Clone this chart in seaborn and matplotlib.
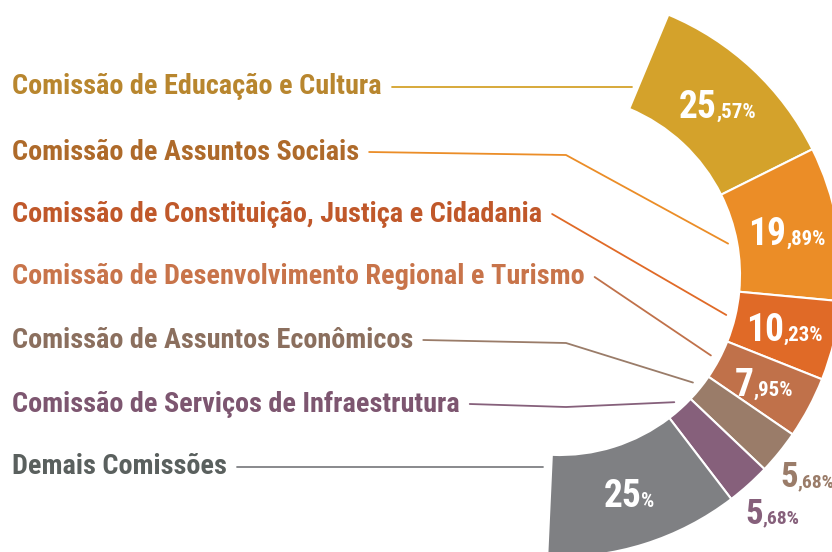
import numpy as np
import matplotlib
matplotlib.use("Agg")
import matplotlib.pyplot as plt
from matplotlib.patches import Wedge
import seaborn as sns

# dados
comissoes = [
    "Comissão de Educação e Cultura",
    "Comissão de Assuntos Sociais",
    "Comissão de Constituição, Justiça e Cidadania",
    "Comissão de Desenvolvimento Regional e Turismo",
    "Comissão de Assuntos Econômicos",
    "Comissão de Serviços de Infraestrutura",
    "Demais Comissões",
]
percentuais = [25.57, 19.89, 10.23, 7.95, 5.68, 5.68, 25.0]

cores_fatias = ["#D4A22B", "#EB8D27", "#E06A27", "#C0714A", "#9A7C69", "#86607B", "#7F8083"]
cores_texto = ["#B8862E", "#AE6A2A", "#C0582A", "#C8744A", "#8B6F5E", "#7D5670", "#5A605E"]

sns.set_style("white")
plt.rcParams["font.family"] = ["Roboto Condensed", "Liberation Sans Narrow", "DejaVu Sans"]
plt.rcParams["font.weight"] = "bold"

W, H = 832, 552
fig = plt.figure(figsize=(W / 100, H / 100), dpi=100)
ax = fig.add_axes([0, 0, 1, 1])
ax.set_xlim(0, W)
ax.set_ylim(0, H)
ax.axis("off")

# layout do anel
cx, cy = 560, H - 275
r_in, r_out = 180, 282
ang_ini, ang_fim = 67.4, -92.6
span = ang_ini - ang_fim

pal = sns.color_palette(cores_fatias)
total = sum(percentuais)
cum = np.concatenate([[0], np.cumsum(percentuais)])
meios = []
for i, v in enumerate(percentuais):
    t2 = ang_ini - cum[i] / total * span
    t1 = ang_ini - cum[i + 1] / total * span
    ax.add_patch(Wedge((cx, cy), r_out, t1, t2, width=r_out - r_in,
                       facecolor=pal[i], edgecolor="white", lw=1.5))
    meios.append((t1 + t2) / 2)

fig.canvas.draw()
rend = fig.canvas.get_renderer()


def rotulo_valor(x, y, v, cor, fs_big=27, fs_small=15):
    s = f"{v:.2f}".replace(".", ",")
    inteiro, dec = s.split(",")
    small = "%" if dec == "00" else "," + dec + "%"
    tb = ax.text(x, y, inteiro, color=cor, fontsize=fs_big, ha="left", va="baseline")
    ts = ax.text(x, y, small, color=cor, fontsize=fs_small, ha="left", va="baseline")
    wb = tb.get_window_extent(rend).width
    ws = ts.get_window_extent(rend).width
    x0 = x - (wb + ws) / 2
    tb.set_x(x0)
    ts.set_x(x0 + wb)


# rótulos de valor
for i, v in enumerate(percentuais):
    a = np.radians(meios[i])
    if v > 7:
        r = (r_in + r_out) / 2
        rotulo_valor(cx + r * np.cos(a), cy + r * np.sin(a) - 12, v, "white")
    else:
        r = 318
        rotulo_valor(cx + r * np.cos(a), cy + r * np.sin(a) - 12, v, pal[i],
                     fs_big=25, fs_small=14)

# nomes e linhas de chamada
ys = [H - 87, H - 152, H - 214, H - 277, H - 340, H - 404, H - 467]
cotovelo = [False, True, False, False, True, True, False]
x_cot = 566
for i, nome in enumerate(comissoes):
    t = ax.text(12, ys[i], nome, color=cores_texto[i], fontsize=20.3,
                ha="left", va="center")
    x_fim_txt = t.get_window_extent(rend).x1
    x_ini = x_fim_txt + 10
    if i == 0:
        a = np.radians(ang_ini)
        pts = [(x_ini, ys[i]), (cx + (ys[i] - cy) / np.tan(a) - 6, ys[i])]
    elif i == len(comissoes) - 1:
        a = np.radians(ang_fim)
        pts = [(x_ini, ys[i]), (cx + (ys[i] - cy) / np.tan(a) - 8, ys[i])]
    else:
        a = np.radians(meios[i])
        fim = (cx + 171 * np.cos(a), cy + 171 * np.sin(a))
        pts = [(x_ini, ys[i])]
        if cotovelo[i]:
            pts.append((x_cot, ys[i] - 3))
        pts.append(fim)
    xs, yy = zip(*pts)
    ax.plot(xs, yy, color=pal[i], lw=1.3)

fig.savefig("out.png", dpi=100)
